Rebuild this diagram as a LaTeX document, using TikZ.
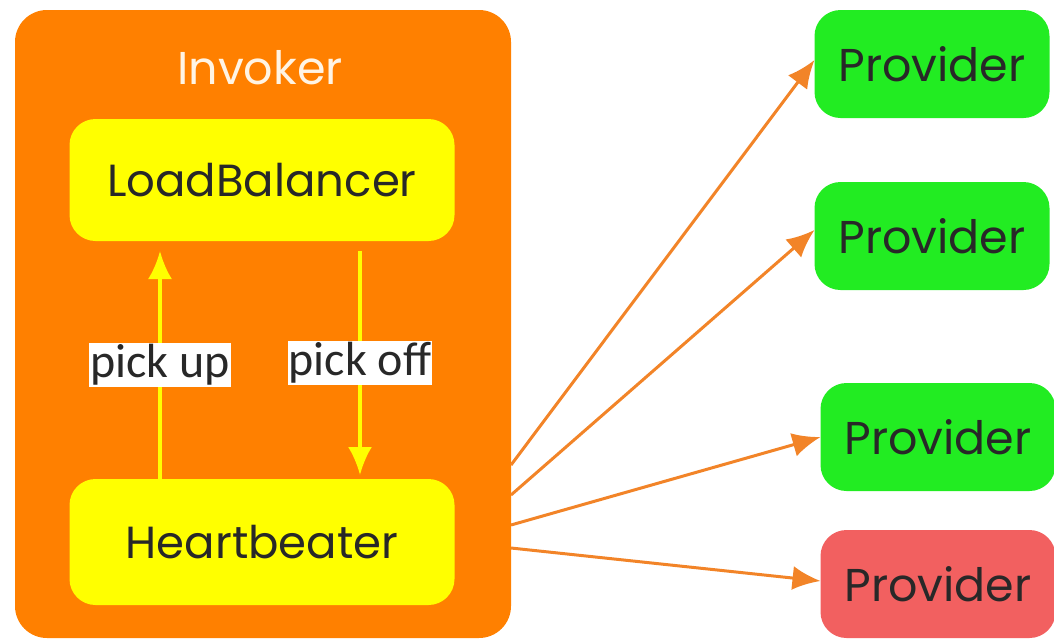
\documentclass[tikz,border=0pt]{standalone}
\usepackage{fontspec}
\setmainfont{Poppins}
\newfontfamily\pickfont{Carlito}
\usetikzlibrary{arrows.meta, calc, positioning}
\definecolor{invorange}{RGB}{255,128,0}
\definecolor{lineorange}{RGB}{242,132,40}
\definecolor{hbyellow}{RGB}{255,255,0}
\definecolor{okgreen}{RGB}{34,236,34}
\definecolor{badred}{RGB}{242,96,96}
\definecolor{txtdark}{RGB}{40,40,40}

\begin{document}
\begin{tikzpicture}[% styles used in image code
x=1pt, y=-1pt,
      > = {Latex[length=28pt, width=24pt]},
inner box/.style = {fill=hbyellow, rounded corners=26pt,
              minimum width=385pt, minimum height=122pt,
              inner sep=0pt, outer sep=0pt, text=txtdark,
              font=\fontsize{45}{50}\selectfont},
prov box/.style = {rounded corners=26pt,
              minimum width=235pt, minimum height=108pt,
              inner sep=0pt, outer sep=0pt, text=txtdark,
              font=\fontsize{46}{50}\selectfont},
pick/.style = {->, hbyellow, line width=3.5pt},
pick label/.style = {fill=white, text=txtdark, inner sep=1pt,
              font=\pickfont\fontsize{48}{52}\selectfont},
fan arrow/.style = {->, lineorange, line width=3pt}
                        ]
	\useasboundingbox (0,0) rectangle (1054,643);

	% invoker with its two parts
	\fill[invorange, rounded corners=32pt] (15,10) rectangle (511,638);
	\node[text={rgb,255:red,255;green,244;blue,228},
	      font=\fontsize{46}{50}\selectfont] (invtitle) at (260,68) {Invoker};
	\node[inner box] (lb) at (262,180) {LoadBalancer};
	\node[inner box, minimum height=126pt] (hb) at (262,542) {Heartbeater};

	\draw[pick] ([xshift=-102pt]hb.north) -- ([xshift=-102pt,yshift=-10pt]lb.south)
	            node[midway, pick label] {pick up};
	\draw[pick] ([xshift=98pt,yshift=-10pt]lb.south) -- ([xshift=98pt,yshift=4pt]hb.north)
	            node[midway, pick label] {pick off};

	% providers
	\node[prov box, fill=okgreen] (p1) at (932,64) {Provider};
	\node[prov box, fill=okgreen] (p2) at (932,236) {Provider};
	\node[prov box, fill=okgreen] (p3) at (938,437) {Provider};
	\node[prov box, fill=badred] (p4) at (938,584) {Provider};

	\coordinate (o1) at (511,465);
	\coordinate (o2) at (511,495);
	\coordinate (o3) at (511,525);
	\coordinate (o4) at (511,548);

	\draw[fan arrow] (o1) -- ([yshift=4pt]p1.west);
	\draw[fan arrow] (o2) -- ([yshift=6pt]p2.west);
	\draw[fan arrow] (o3) -- (p3.west);
	\draw[fan arrow] (o4) -- ([yshift=3pt]p4.west);
\end{tikzpicture}
\end{document}
